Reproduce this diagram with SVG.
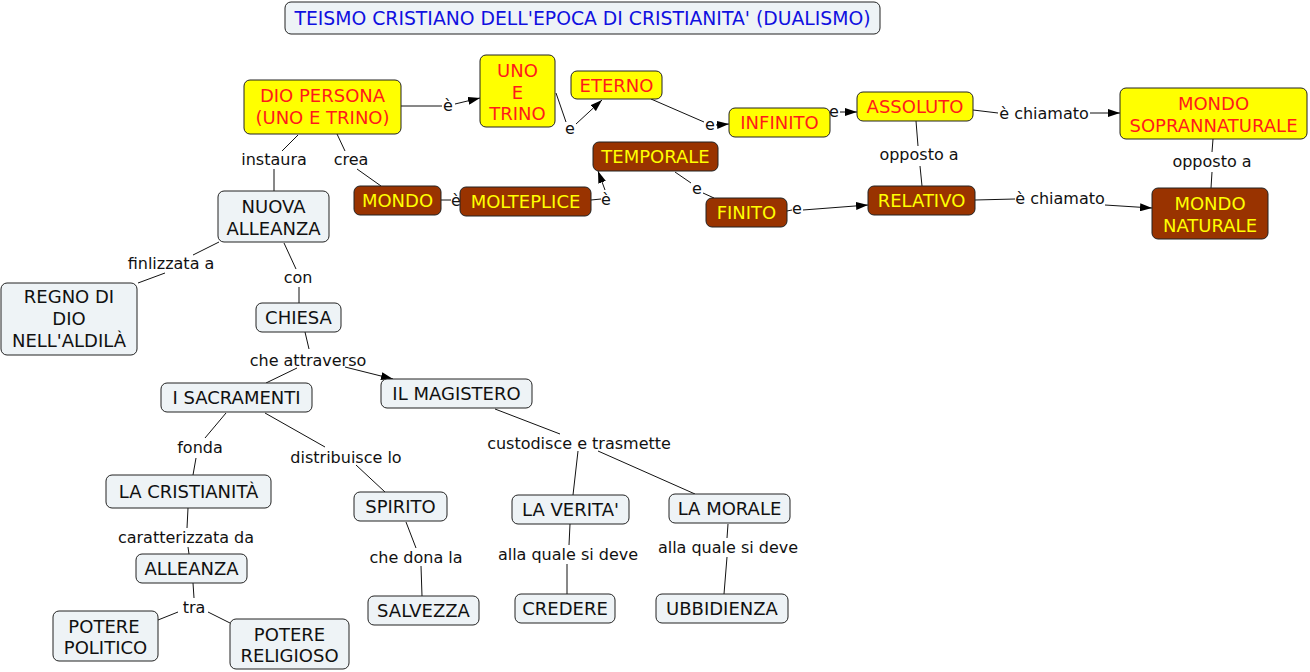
<svg xmlns="http://www.w3.org/2000/svg" width="1310" height="672" viewBox="0 0 1310 672">
<style>
rect{stroke:#222;stroke-width:1}
.y{fill:#ffff00}
.b{fill:#993300}
.l{fill:#eef3f6}
text{font-family:"DejaVu Sans",Verdana,sans-serif;text-anchor:middle}
.n{font-size:18px}
.ty{fill:#ff1a1a}
.tb{fill:#ffff00}
.tl{fill:#111}
.tt{fill:#1010e0;font-size:18.8px}
.lb{font-size:16px;fill:#111}
line,polyline{stroke:#111;stroke-width:1;fill:none}
.a{marker-end:url(#ah)}
</style>
<defs>
<marker id="ah" markerUnits="userSpaceOnUse" viewBox="0 0 12 8" refX="12" refY="4" markerWidth="12" markerHeight="8" orient="auto">
<path d="M0,0 L12,4 L0,8 z" fill="#000"/>
</marker>
</defs>
<rect width="1310" height="672" fill="#fff" style="stroke:none"/>

<g id="connectors">
<line x1="401" y1="106" x2="442" y2="106"/>
<line class="a" x1="455" y1="104" x2="480" y2="98"/>
<text class="lb" x="448" y="111">è</text>
<line x1="556" y1="93" x2="566" y2="122"/>
<line class="a" x1="576" y1="124" x2="602" y2="100"/>
<text class="lb" x="570" y="134">e</text>
<line x1="651" y1="99" x2="704" y2="122"/>
<line class="a" x1="716" y1="125" x2="729" y2="124"/>
<text class="lb" x="710" y="130">e</text>
<line class="a" x1="840" y1="112" x2="857" y2="112"/>
<text class="lb" x="834" y="117">e</text>
<line x1="973" y1="110" x2="998" y2="113"/>
<line class="a" x1="1090" y1="113" x2="1120" y2="113"/>
<text class="lb" x="1044" y="119">è chiamato</text>
<line x1="916" y1="121" x2="918" y2="146"/>
<line x1="920" y1="166" x2="922" y2="186"/>
<text class="lb" x="919" y="160">opposto a</text>
<line x1="1213" y1="139" x2="1212" y2="152"/>
<line x1="1212" y1="172" x2="1211" y2="188"/>
<text class="lb" x="1212" y="167">opposto a</text>
<line x1="975" y1="200" x2="1015" y2="199"/>
<line class="a" x1="1105" y1="205" x2="1152" y2="208"/>
<text class="lb" x="1060" y="204">è chiamato</text>
<line x1="787" y1="211" x2="792" y2="210"/>
<line class="a" x1="803" y1="210" x2="868" y2="205"/>
<text class="lb" x="797" y="214">e</text>
<line x1="675" y1="172" x2="691" y2="183"/>
<line x1="703" y1="193" x2="714" y2="198"/>
<text class="lb" x="697" y="194">e</text>
<line x1="591" y1="200" x2="601" y2="199"/>
<line class="a" x1="605" y1="190" x2="598" y2="171"/>
<text class="lb" x="606" y="205">è</text>
<line x1="441" y1="200" x2="451" y2="200"/>
<text class="lb" x="456" y="206">è</text>
<line x1="337" y1="134" x2="345" y2="151"/>
<line x1="357" y1="169" x2="381" y2="186"/>
<text class="lb" x="351" y="165">crea</text>
<line x1="298" y1="135" x2="282" y2="151"/>
<line x1="274" y1="169" x2="274" y2="191"/>
<text class="lb" x="274" y="165">instaura</text>
<line x1="219" y1="242" x2="193" y2="255"/>
<line x1="165" y1="273" x2="138" y2="283"/>
<text class="lb" x="171" y="269">finlizzata a</text>
<line x1="284" y1="243" x2="296" y2="269"/>
<line x1="299" y1="287" x2="299" y2="303"/>
<text class="lb" x="298" y="283">con</text>
<line x1="305" y1="332" x2="309" y2="349"/>
<line x1="297" y1="368" x2="266" y2="383"/>
<line class="a" x1="345" y1="367" x2="393" y2="379"/>
<text class="lb" x="308" y="366">che attraverso</text>
<line x1="226" y1="413" x2="205" y2="438"/>
<line x1="196" y1="458" x2="193" y2="475"/>
<text class="lb" x="200" y="453">fonda</text>
<line x1="265" y1="413" x2="325" y2="447"/>
<line x1="356" y1="465" x2="385" y2="492"/>
<text class="lb" x="346" y="463">distribuisce lo</text>
<line x1="495" y1="409" x2="560" y2="434"/>
<line x1="578" y1="451" x2="573" y2="495"/>
<line x1="598" y1="451" x2="695" y2="494"/>
<text class="lb" x="579" y="449">custodisce e trasmette</text>
<line x1="188" y1="508" x2="187" y2="528"/>
<line x1="188" y1="547" x2="189" y2="554"/>
<text class="lb" x="186" y="543">caratterizzata da</text>
<line x1="193" y1="583" x2="194" y2="598"/>
<line x1="178" y1="612" x2="158" y2="620"/>
<line x1="208" y1="612" x2="230" y2="623"/>
<text class="lb" x="194" y="613">tra</text>
<line x1="406" y1="522" x2="416" y2="548"/>
<line x1="421" y1="566" x2="422" y2="596"/>
<text class="lb" x="416" y="563">che dona la</text>
<line x1="570" y1="524" x2="569" y2="545"/>
<line x1="567" y1="564" x2="567" y2="594"/>
<text class="lb" x="568" y="560">alla quale si deve</text>
<line x1="728" y1="524" x2="727" y2="538"/>
<line x1="727" y1="557" x2="724" y2="594"/>
<text class="lb" x="728" y="553">alla quale si deve</text>
</g>

<g id="title"><rect class="l" x="285" y="2" width="595" height="32" rx="6"/><text class="tt" x="582.5" y="24.5">TEISMO CRISTIANO DELL'EPOCA DI CRISTIANITA' (DUALISMO)</text></g>

<g id="dio"><rect class="y" x="244" y="80" width="157" height="54" rx="6"/><text class="n ty" x="322.5" y="102">DIO PERSONA</text><text class="n ty" x="322.5" y="124">(UNO E TRINO)</text></g>
<g id="unoetrino"><rect class="y" x="480" y="55" width="75" height="72" rx="6"/><text class="n ty" x="517.5" y="77">UNO</text><text class="n ty" x="517.5" y="99">E</text><text class="n ty" x="517.5" y="120">TRINO</text></g>
<g id="eterno"><rect class="y" x="571" y="71" width="91" height="28" rx="6"/><text class="n ty" x="616.5" y="91.5">ETERNO</text></g>
<g id="infinito"><rect class="y" x="729" y="108" width="101" height="29" rx="6"/><text class="n ty" x="779.5" y="129">INFINITO</text></g>
<g id="assoluto"><rect class="y" x="857" y="92" width="116" height="29" rx="6"/><text class="n ty" x="915" y="113">ASSOLUTO</text></g>
<g id="soprannaturale"><rect class="y" x="1120" y="88" width="187" height="51" rx="6"/><text class="n ty" x="1213.5" y="110">MONDO</text><text class="n ty" x="1213.5" y="132">SOPRANNATURALE</text></g>

<g id="temporale"><rect class="b" x="593" y="142" width="125" height="29" rx="6"/><text class="n tb" x="655.5" y="163">TEMPORALE</text></g>
<g id="mondo"><rect class="b" x="354" y="186" width="87" height="29" rx="6"/><text class="n tb" x="397.5" y="207">MONDO</text></g>
<g id="molteplice"><rect class="b" x="460" y="187" width="131" height="29" rx="6"/><text class="n tb" x="525.5" y="208">MOLTEPLICE</text></g>
<g id="finito"><rect class="b" x="706" y="198" width="81" height="29" rx="6"/><text class="n tb" x="746.5" y="219">FINITO</text></g>
<g id="relativo"><rect class="b" x="868" y="186" width="107" height="29" rx="6"/><text class="n tb" x="921.5" y="207">RELATIVO</text></g>
<g id="naturale"><rect class="b" x="1152" y="188" width="116" height="51" rx="6"/><text class="n tb" x="1210" y="209.5">MONDO</text><text class="n tb" x="1210" y="231.5">NATURALE</text></g>

<g id="nuovaalleanza"><rect class="l" x="218" y="191" width="111" height="51" rx="6"/><text class="n tl" x="273.5" y="213">NUOVA</text><text class="n tl" x="273.5" y="235">ALLEANZA</text></g>
<g id="regno"><rect class="l" x="1" y="283" width="136" height="72" rx="6"/><text class="n tl" x="69" y="303">REGNO DI</text><text class="n tl" x="69" y="325">DIO</text><text class="n tl" x="69" y="347">NELL'ALDILÀ</text></g>
<g id="chiesa"><rect class="l" x="256" y="303" width="85" height="29" rx="6"/><text class="n tl" x="298.5" y="324">CHIESA</text></g>
<g id="sacramenti"><rect class="l" x="161" y="383" width="151" height="29" rx="6"/><text class="n tl" x="236.5" y="404">I SACRAMENTI</text></g>
<g id="magistero"><rect class="l" x="381" y="379" width="151" height="29" rx="6"/><text class="n tl" x="456.5" y="400">IL MAGISTERO</text></g>
<g id="cristianita"><rect class="l" x="106" y="475" width="165" height="33" rx="6"/><text class="n tl" x="188.5" y="498">LA CRISTIANITÀ</text></g>
<g id="spirito"><rect class="l" x="354" y="492" width="93" height="29" rx="6"/><text class="n tl" x="400.5" y="513">SPIRITO</text></g>
<g id="verita"><rect class="l" x="512" y="495" width="117" height="29" rx="6"/><text class="n tl" x="570.5" y="516">LA VERITA'</text></g>
<g id="morale"><rect class="l" x="669" y="494" width="121" height="29" rx="6"/><text class="n tl" x="729.5" y="515">LA MORALE</text></g>
<g id="alleanza"><rect class="l" x="136" y="554" width="111" height="29" rx="6"/><text class="n tl" x="191.5" y="575">ALLEANZA</text></g>
<g id="salvezza"><rect class="l" x="368" y="596" width="111" height="29" rx="6"/><text class="n tl" x="423.5" y="617">SALVEZZA</text></g>
<g id="credere"><rect class="l" x="515" y="594" width="100" height="29" rx="6"/><text class="n tl" x="565" y="615">CREDERE</text></g>
<g id="ubbidienza"><rect class="l" x="656" y="594" width="132" height="29" rx="6"/><text class="n tl" x="722" y="615">UBBIDIENZA</text></g>
<g id="politico"><rect class="l" x="53" y="611" width="105" height="50" rx="6"/><text class="n tl" x="104" y="633">POTERE</text><text class="n tl" x="105.5" y="654">POLITICO</text></g>
<g id="religioso"><rect class="l" x="230" y="619" width="119" height="50" rx="6"/><text class="n tl" x="289.5" y="641">POTERE</text><text class="n tl" x="289.5" y="662">RELIGIOSO</text></g>
</svg>
